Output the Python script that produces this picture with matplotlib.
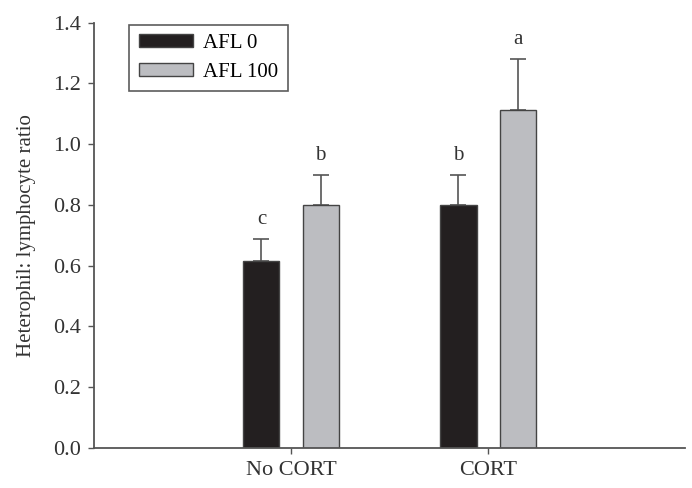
import matplotlib
matplotlib.use("Agg")
import matplotlib.pyplot as plt
import numpy as np

categories = ["No CORT", "CORT"]
series_names = ["AFL 0", "AFL 100"]
afl0 = [0.617, 0.800]
afl0_err = [0.072, 0.097]
afl100 = [0.800, 1.113]
afl100_err = [0.097, 0.167]
letters_afl0 = ["c", "b"]
letters_afl100 = ["b", "a"]
yticks = [0.0, 0.2, 0.4, 0.6, 0.8, 1.0, 1.2, 1.4]

plt.rcParams['font.family'] = ['Liberation Serif', 'DejaVu Serif']

fig = plt.figure(figsize=(6.92, 4.88), dpi=100)
ax = fig.add_axes([0.1358, 0.082, 0.99 - 0.1358, 0.9535 - 0.082])

x = np.arange(len(categories))
off = 0.15
w = 0.183
edge = '#444444'
c0 = '#231f20'
c1 = '#bcbdc1'
txtc = '#333333'

ax.bar(x - off, afl0, w, color=c0, edgecolor=edge, linewidth=1.0, label=series_names[0], zorder=2)
ax.bar(x + off, afl100, w, color=c1, edgecolor=edge, linewidth=1.0, label=series_names[1], zorder=2)
ax.errorbar(x - off, afl0, yerr=[np.zeros(len(x)), afl0_err], fmt='none', ecolor='#555555',
            elinewidth=1.2, capsize=6, capthick=1.2, zorder=1)
ax.errorbar(x + off, afl100, yerr=[np.zeros(len(x)), afl100_err], fmt='none', ecolor='#555555',
            elinewidth=1.2, capsize=6, capthick=1.2, zorder=1)

for xi, v, e, t in zip(x - off, afl0, afl0_err, letters_afl0):
    ax.text(xi, v + e + 0.033, t, ha='center', va='bottom', fontsize=15, color=txtc)
for xi, v, e, t in zip(x + off, afl100, afl100_err, letters_afl100):
    ax.text(xi, v + e + 0.033, t, ha='center', va='bottom', fontsize=15, color=txtc)

ax.set_xlim(-1, 2)
ax.set_ylim(0, 1.4)
ax.set_xticks(x)
ax.set_xticklabels(categories, fontsize=16, color=txtc)
ax.set_yticks(yticks)
ax.set_yticklabels([f"{t:.1f}" for t in yticks], fontsize=16, color=txtc)
ax.set_ylabel("Heterophil: lymphocyte ratio", fontsize=15, color=txtc, labelpad=12)

for s in ['top', 'right']:
    ax.spines[s].set_visible(False)
for s in ['left', 'bottom']:
    ax.spines[s].set_color('#555555')
    ax.spines[s].set_linewidth(1.3)
ax.tick_params(axis='both', direction='out', length=4.5, width=1.0, color='#555555', pad=5)

leg = ax.legend(loc='upper left', bbox_to_anchor=(0.06, 0.995), fontsize=15, frameon=True,
                fancybox=False, edgecolor='#333333', handlelength=2.6, handleheight=0.6,
                borderpad=0.45, labelspacing=0.45, handletextpad=0.5, borderaxespad=0)
leg.get_frame().set_linewidth(1.2)

fig.savefig("out.png", dpi=100)
